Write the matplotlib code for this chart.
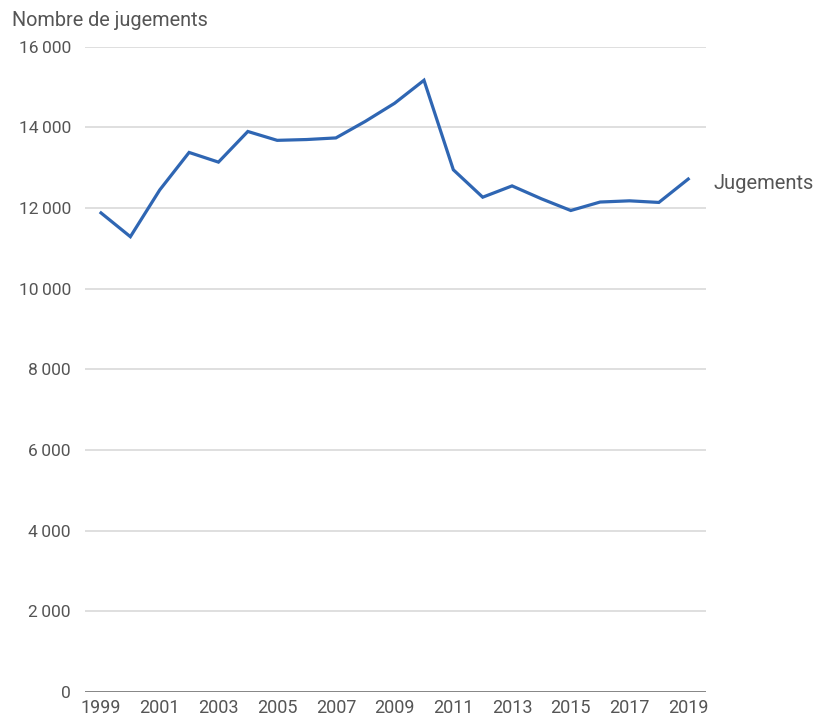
import matplotlib.pyplot as plt

years = list(range(1999, 2020))
jugements = [11880, 11290, 12450, 13380, 13140, 13900, 13680, 13700, 13740,
             14150, 14600, 15170, 12950, 12270, 12550, 12230, 11940, 12150,
             12180, 12140, 12720]
tick_years = list(range(1999, 2020, 2))
y_ticks = [0, 2000, 4000, 6000, 8000, 10000, 12000, 14000, 16000]

plt.rcParams['font.family'] = ['Roboto', 'DejaVu Sans']

fig = plt.figure(figsize=(8.16, 7.2), dpi=100)
ax = fig.add_axes([0.104, 0.039, 0.761, 0.896])

ax.plot(years, jugements, color='#2f66b3', linewidth=2.3, solid_joinstyle='miter')

ax.set_xlim(1998.45, 2019.6)
ax.set_ylim(0, 16000)
ax.set_yticks(y_ticks)
ax.set_yticklabels([f'{v:,}'.replace(',', '\u2009') for v in y_ticks])
ax.set_xticks(tick_years)
ax.set_xticklabels([str(y) for y in tick_years])

for v in y_ticks[1:]:
    ax.axhline(v, color='#dcdcdc', linewidth=1.3, zorder=0)
ax.axhline(0, color='#7a7a7a', linewidth=2, zorder=1)

for s in ax.spines.values():
    s.set_visible(False)
ax.tick_params(axis='both', length=0, colors='#555555')
ax.tick_params(axis='y', pad=10, labelsize=12.5)
ax.tick_params(axis='x', pad=5, labelsize=13)

ax.text(2019.85, jugements[-1] - 100, 'Jugements', fontsize=14.5, color='#555555',
        va='center', ha='left')
fig.text(12 / 816, 1 - 20 / 720, 'Nombre de jugements', fontsize=14.3,
         color='#555555', va='center', ha='left')

fig.savefig('out.png', dpi=100)
